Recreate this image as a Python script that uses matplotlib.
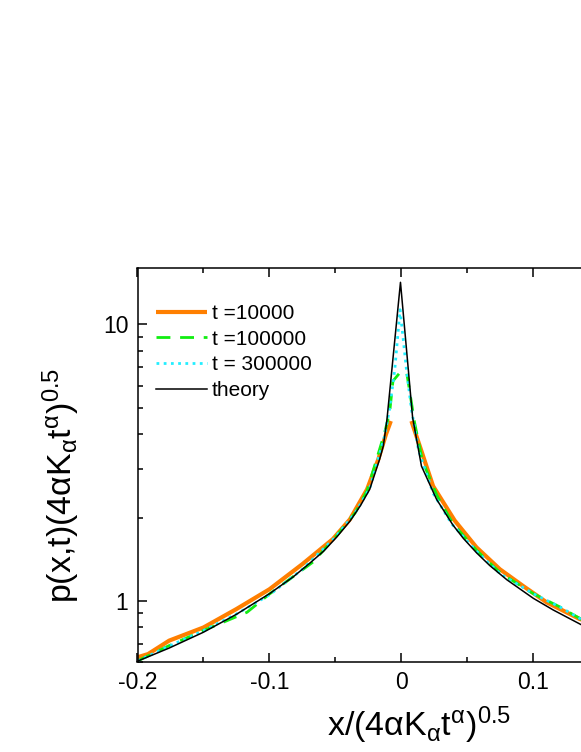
import numpy as np
import matplotlib
matplotlib.use('Agg')
import matplotlib.pyplot as plt
from matplotlib.ticker import MultipleLocator, LogLocator, NullFormatter, FixedLocator, FixedFormatter

plt.rcParams['font.family'] = ['Liberation Sans', 'DejaVu Sans']
plt.rcParams['mathtext.fontset'] = 'custom'
plt.rcParams['mathtext.rm'] = 'Liberation Sans'
plt.rcParams['mathtext.it'] = 'Liberation Sans'
plt.rcParams['mathtext.bf'] = 'Liberation Sans'
plt.rcParams['axes.unicode_minus'] = False

# values
# t = 10000 (orange, broken at the centre)
x_o = [-0.2, -0.192, -0.176, -0.15, -0.125, -0.1, -0.075, -0.052, -0.039, -0.026,
       -0.0175, -0.0117, -0.008, 0.0, 0.0076, 0.024, 0.0404, 0.0569, 0.0746,
       0.0923, 0.11, 0.135, 0.145]
y_o = [0.624, 0.641, 0.717, 0.80, 0.933, 1.10, 1.357, 1.67, 1.97, 2.53,
       3.25, 4.0, 4.47, np.nan, 4.47, 2.60, 1.95, 1.56, 1.30,
       1.13, 0.987, 0.859, 0.83]

# t = 100000 (green dashed)
x_g = [-0.2, -0.176, -0.15, -0.117, -0.1, -0.067, -0.049, -0.035, -0.026, -0.0127,
       -0.0089, -0.0064, -0.001, 0.004, 0.01, 0.016, 0.027, 0.039, 0.057, 0.075,
       0.1, 0.12, 0.145]
y_g = [0.605, 0.688, 0.78, 0.908, 1.057, 1.38, 1.72, 2.08, 2.50, 4.06,
       4.8, 6.24, 6.7, 6.7, 4.41, 3.2, 2.4, 1.90, 1.52, 1.26,
       1.06, 0.95, 0.81]

# t = 300000 (cyan dotted)
x_c = [-0.2, -0.176, -0.15, -0.125, -0.1, -0.075, -0.05, -0.035, -0.024, -0.013,
       -0.009, -0.005, -0.001, 0.0038, 0.0076, 0.013, 0.024, 0.038, 0.057, 0.075,
       0.1, 0.12, 0.145]
y_c = [0.605, 0.685, 0.78, 0.895, 1.05, 1.30, 1.70, 2.08, 2.55, 3.9,
       4.93, 6.88, 11.3, 6.88, 4.93, 3.5, 2.45, 1.90, 1.51, 1.25,
       1.06, 0.95, 0.81]

# theory (black)
x_th = [-0.2, -0.176, -0.15, -0.125, -0.1, -0.082, -0.07, -0.059, -0.049, -0.039,
        -0.031, -0.024, -0.0165, -0.0137, -0.011, -0.0007, 0.0085, 0.0152, 0.0266,
        0.039, 0.047, 0.057, 0.067, 0.08, 0.1, 0.115, 0.136, 0.145]
y_th = [0.604, 0.674, 0.769, 0.893, 1.06, 1.22, 1.36, 1.51, 1.70, 1.94,
        2.21, 2.53, 3.25, 3.63, 4.5, 14.2, 4.6, 3.07, 2.33,
        1.88, 1.68, 1.49, 1.34, 1.19, 1.02, 0.926, 0.82, 0.79]

labels = ['t =10000', 't =100000', 't = 300000', 'theory']

fig = plt.figure(figsize=(5.81, 7.52), dpi=100)
# axes run past the right edge of the picture (cropped like the original)
ax = fig.add_axes([137.5/581, 1-662/752, (665.3-137.5)/581, (662-268)/752])

ax.plot(x_o, y_o, color='#ff7f00', lw=3, label=labels[0], solid_capstyle='butt')
ax.plot(x_g, y_g, color='#11ee11', lw=2, ls=(0, (5, 3.5)), label=labels[1])
ax.plot(x_c, y_c, color='#22eeff', lw=2, ls=(0, (1, 1.6)), label=labels[2])
ax.plot(x_th, y_th, color='black', lw=1.1, label=labels[3])

ax.set_yscale('log')
ax.set_xlim(-0.2, 0.2)
ax.set_ylim(0.6, 16)

ax.xaxis.set_major_locator(FixedLocator([-0.2, -0.1, 0, 0.1]))
ax.xaxis.set_major_formatter(FixedFormatter(['-0.2', '-0.1', '0', '0.1']))
ax.xaxis.set_minor_locator(MultipleLocator(0.05))
ax.yaxis.set_major_locator(FixedLocator([1, 10]))
ax.yaxis.set_major_formatter(FixedFormatter(['1', '10']))
ax.yaxis.set_minor_locator(LogLocator(base=10, subs=np.arange(2, 10)))
ax.yaxis.set_minor_formatter(NullFormatter())

ax.tick_params(which='both', direction='in', top=True, right=True, width=1.1, labelsize=16.5)
ax.tick_params(which='major', length=6.5, pad=6.5)
ax.tick_params(which='minor', length=3.6)
for s in ax.spines.values():
    s.set_linewidth(1.1)

ax.set_xlabel(r'$\mathregular{x/(4\alpha K_\alpha t^\alpha)^{0.5}}$', fontsize=24.5)
ax.set_ylabel(r'$\mathregular{p(x{,}t)(4\alpha K_\alpha t^\alpha)^{0.5}}$', fontsize=24.5)
ax.xaxis.set_label_coords(0.534, -0.109)
ax.yaxis.set_label_coords(-0.105, 0.449)

ax.legend(loc='upper left', bbox_to_anchor=(0.02, 0.93), frameon=False, fontsize=15,
          handlelength=2.45, handletextpad=0.2, labelspacing=0.32, borderaxespad=0)

fig.savefig('out.png', dpi=100)
